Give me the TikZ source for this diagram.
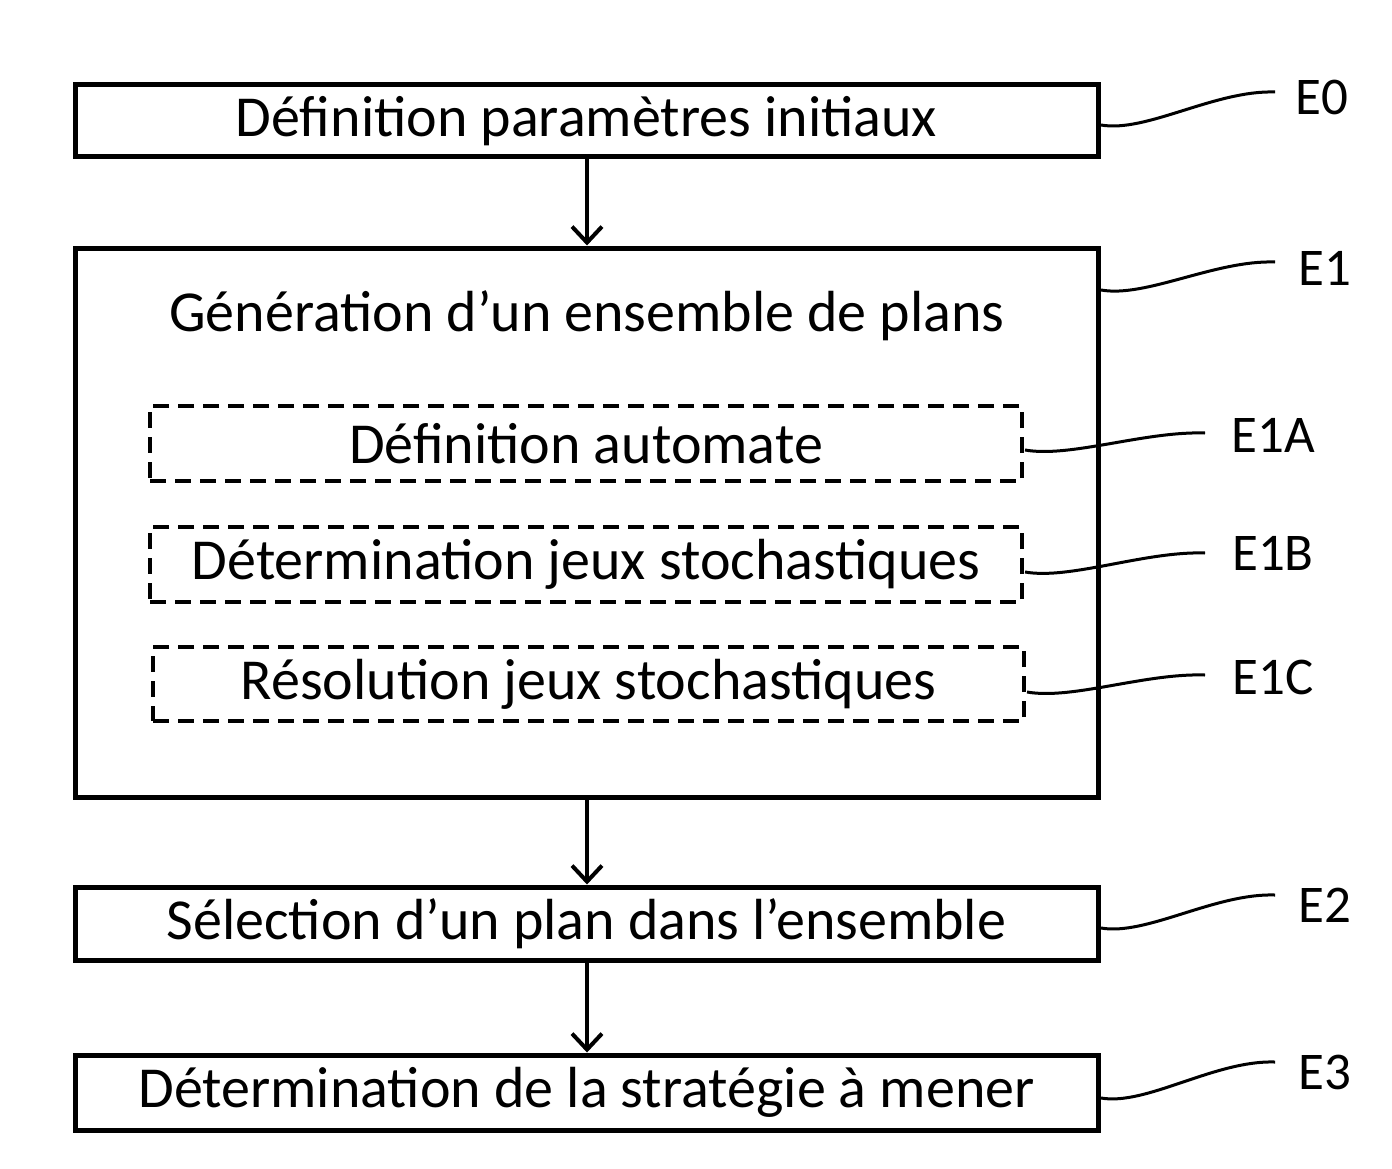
\documentclass[tikz,border=0pt]{standalone}
\usepackage{fontspec}
\usetikzlibrary{arrows.meta,calc}
\setmainfont{Carlito}
\begin{document}
\begin{tikzpicture}[x=1pt,y=-1pt,
box/.style={draw,line width=5pt,minimum width=1023pt,inner sep=0pt,font=\fontsize{58}{60}\selectfont},
dbox/.style={draw,line width=4.5pt,dash pattern=on 16pt off 9pt,inner sep=0pt,font=\fontsize{58}{60}\selectfont},
arr/.style={line width=4pt,-{Straight Barb[length=16pt,width=30pt,line width=4pt]}},
sq/.style={line width=3pt},
lab/.style={font=\fontsize{53}{55}\selectfont,inner sep=0pt}]
\useasboundingbox (0,0) rectangle (1392,1169);
\node[box,minimum height=72pt] (e0) at (586.5,121) {Définition paramètres initiaux};
\node[box,minimum height=549pt] (e1) at (586.5,522.5) {};
\node[font=\fontsize{58}{60}\selectfont] (t1) at (587,316) {Génération d’un ensemble de plans};
\node[dbox,minimum width=872pt,minimum height=75pt] (a) at (586,443.5) {Définition automate};
\node[dbox,minimum width=872pt,minimum height=75pt] (b) at (586,564.5) {Détermination jeux stochastiques};
\node[dbox,minimum width=871pt,minimum height=74pt] (c) at (588.5,684) {Résolution jeux stochastiques};
\node[box,minimum height=73pt] (e2) at (586.5,923.5) {Sélection d’un plan dans l’ensemble};
\node[box,minimum height=75pt] (e3) at (586.5,1092.5) {Détermination de la stratégie à mener};
\draw[arr] (e0.south -| 587,0) -- (e1.north -| 587,0);
\draw[arr] (e1.south -| 587,0) -- (e2.north -| 587,0);
\draw[arr] (e2.south -| 587,0) -- (e3.north -| 587,0);
\node[lab] (l0) at (1322,97) {E0};
\node[lab] (l1) at (1325,268) {E1};
\node[lab] (la) at (1273,435) {E1A};
\node[lab] (lb) at (1273,553) {E1B};
\node[lab] (lc) at (1273,677) {E1C};
\node[lab] (l2) at (1325,905) {E2};
\node[lab] (l3) at (1325,1072) {E3};
\coordinate (s0) at (1101,125); \coordinate (f0) at (1275,92);
\coordinate (s1) at (1101,290); \coordinate (f1) at (1275,262);
\coordinate (sa) at (1025,450); \coordinate (fa) at (1205,433);
\coordinate (sb) at (1025,572); \coordinate (fb) at (1205,553);
\coordinate (sc) at (1027,692); \coordinate (fc) at (1205,675);
\coordinate (s2) at (1101,928); \coordinate (f2) at (1275,895);
\coordinate (s3) at (1101,1098); \coordinate (f3) at (1275,1062);
\foreach \p in {0,1,a,b,c,2,3}{
\draw[sq] (s\p) .. controls +(45,8) and +(-60,-2) .. (f\p);}
\end{tikzpicture}
\end{document}
